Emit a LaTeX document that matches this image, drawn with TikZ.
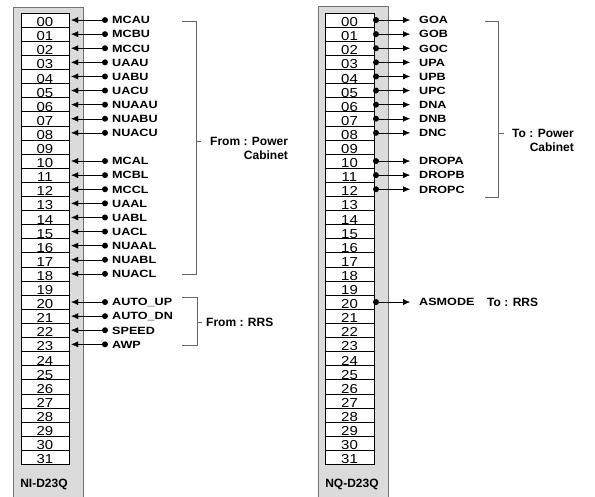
\documentclass[tikz,border=0pt]{standalone}
\usepackage{fontspec}
\setmainfont{Liberation Sans}
\newfontfamily\widefont{Liberation Sans}[FakeStretch=1.15]
\newfontfamily\widerfont{Liberation Sans}[FakeStretch=1.2]
\usetikzlibrary{arrows.meta}

\begin{document}
\begin{tikzpicture}[x=1pt,y=-1pt,
  slot/.style={draw=black,fill=white,minimum width=48pt,minimum height=14.1pt,inner sep=0pt,
    text height=13.2pt,text depth=0pt,font=\widefont\fontsize{13}{14}\selectfont},
  pin/.style={circle,fill=black,inner sep=0pt,minimum size=6pt},
  sig/.style={anchor=west,inner sep=0pt,text height=7.6pt,text depth=0pt,
    font=\widerfont\fontsize{10.5}{12}\selectfont\bfseries},
  note/.style={inner sep=0pt,text height=8.6pt,text depth=0pt,font=\fontsize{12}{14}\selectfont\bfseries},
  brace/.style={draw=black!60},
  wire/.style={-{Latex[length=7pt,width=6pt]}}]
\useasboundingbox (0,0) rectangle (595,497);

% modules
\fill[black!14] (13,7) rectangle (83,497);
\draw[black!55] (13,497) -- (13,7) -- (83,7) -- (83,497);
\fill[black!14] (318,6) rectangle (388,497);
\draw[black!55] (318,497) -- (318,6) -- (388,6) -- (388,497);

\foreach \i in {0,...,31}{
  \node[slot] (L\i) at (45,20.05+14.1*\i) {\ifnum\i<10 0\fi\i};
  \node[slot,minimum width=49pt] (R\i) at (349.5,20.05+14.1*\i) {\ifnum\i<10 0\fi\i};
}

\node[note] (nimod) at (44,483) {NI-D23Q};
\node[note] (nqmod) at (352,483) {NQ-D23Q};

% inputs
\foreach \i/\s in {0/MCAU,1/MCBU,2/MCCU,3/UAAU,4/UABU,5/UACU,6/NUAAU,7/NUABU,8/NUACU,
    10/MCAL,11/MCBL,12/MCCL,13/UAAL,14/UABL,15/UACL,16/NUAAL,17/NUABL,18/NUACL,
    20/AUTO\_UP,21/AUTO\_DN,22/SPEED,23/AWP}{
  \node[pin] (lp\i) at (105,20.05+14.1*\i) {};
  \node[sig] (ls\i) at (112,20.05+14.1*\i) {\s};
  \draw[wire,shorten >=2pt] (lp\i) -- (L\i);
}

% outputs
\foreach \i/\s in {0/GOA,1/GOB,2/GOC,3/UPA,4/UPB,5/UPC,6/DNA,7/DNB,8/DNC,
    10/DROPA,11/DROPB,12/DROPC,20/ASMODE}{
  \node[pin] (rp\i) at (376,20.05+14.1*\i) {};
  \node[sig] (rs\i) at (419,20.05+14.1*\i) {\s};
  \draw[wire,shorten >=9pt] (rp\i) -- (rs\i);
}

% brackets
\draw[brace] (182,21) -| (196,274) -- (182,274);
\draw[brace] (196,141) -- (201,141);
\node[note,anchor=west] (pfrom) at (210,141) {From : Power};
\node[note,anchor=east] (pcab) at (pfrom.east |- 0,155) {Cabinet};

\draw[brace] (182,297) -| (197,345) -- (182,345);
\draw[brace] (197,322) -- (202,322);
\node[note,anchor=west] (rfrom) at (206,322) {From : RRS};

\draw[brace] (485,21) -| (498,197) -- (485,197);
\draw[brace] (498,133) -- (504,133);
\node[note,anchor=west] (pto) at (512,133) {To : Power};
\node[note,anchor=east] (ptocab) at (pto.east |- 0,147) {Cabinet};

\node[note,anchor=west] (rto) at (487,302) {To : RRS};
\end{tikzpicture}
\end{document}
